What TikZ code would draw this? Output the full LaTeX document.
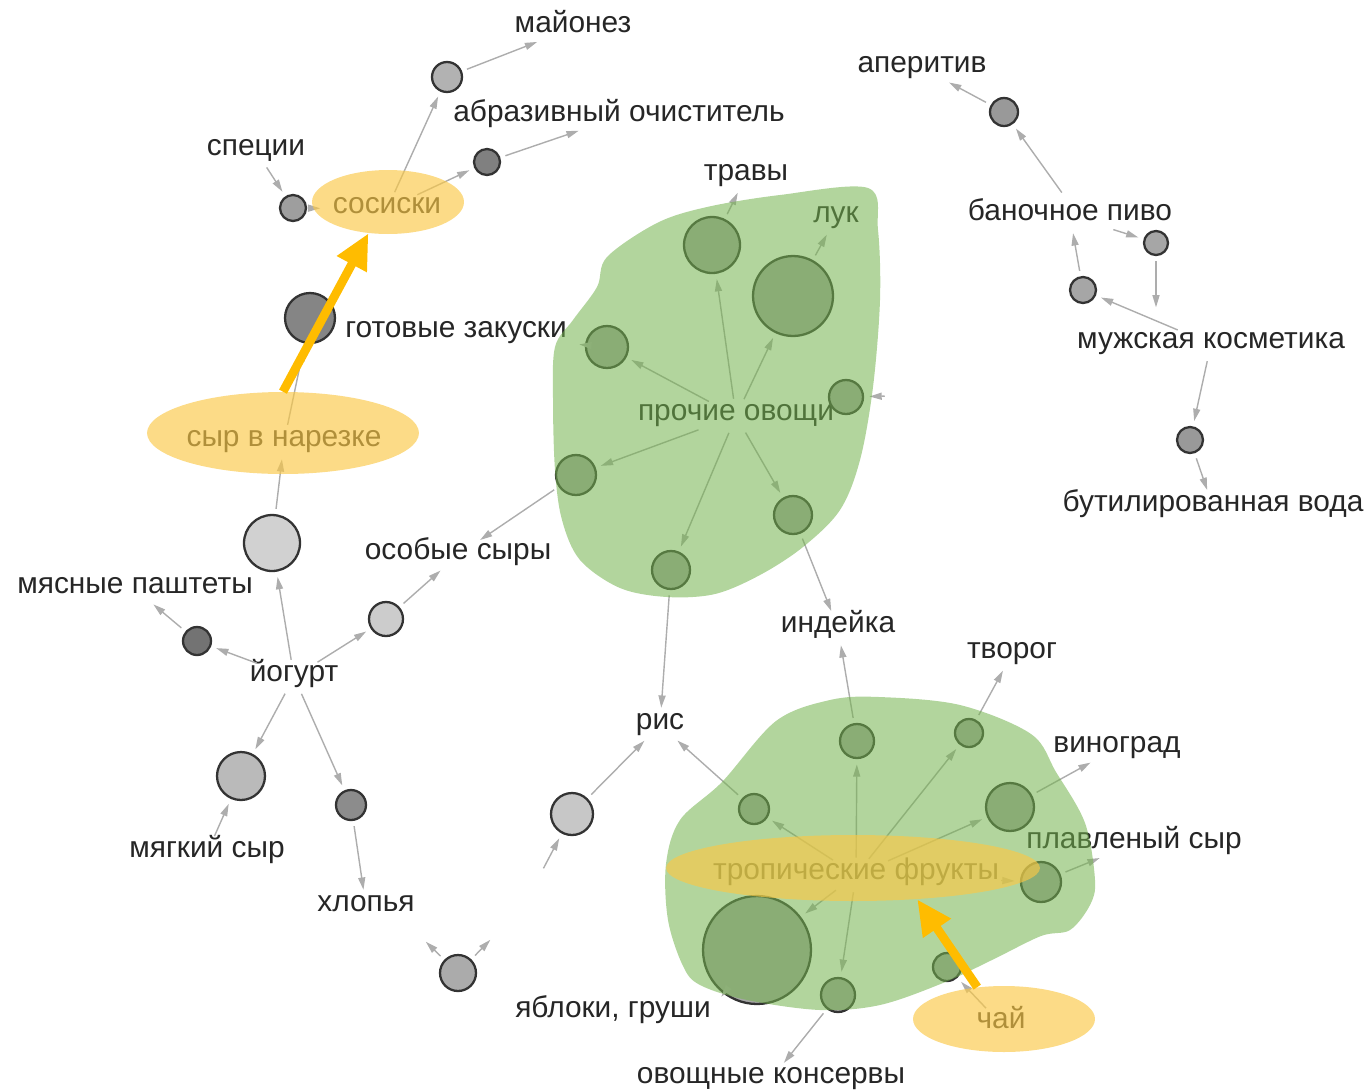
\documentclass[tikz,border=0pt]{standalone}
\usepackage{fontspec}
\setmainfont{Liberation Sans}
\usepackage{tikz}
\usetikzlibrary{shapes.geometric,arrows.meta}

\definecolor{leaf}{RGB}{115,179,77}
\definecolor{honey}{RGB}{250,200,70}
\definecolor{amber}{RGB}{255,188,0}

\begin{document}
\begin{tikzpicture}[x=0.02cm,y=-0.02cm,
  item/.style={font=\fontsize{17}{17}\selectfont,text=black!85,text height=1ex,text depth=0pt,inner sep=4pt,yshift=-0.12cm},
  rulecirc/.style={circle,draw=black!80,line width=1.3pt,minimum size=#1*0.04cm,inner sep=0pt},
  link/.style={color=black!32,line width=0.8pt,-{Triangle[length=7pt,width=4pt]},shorten <=3pt,shorten >=3pt},
  blob/.style={fill=leaf,fill opacity=.55},
  hl/.style={ellipse,fill=honey,fill opacity=.65,inner sep=0pt},
  hot/.style={draw=amber,line width=5pt,-{Triangle[length=20pt,width=18pt]}}]
\useasboundingbox (0,0) rectangle (1369,1089);

\node[item] (may) at (573,22) {майонез};
\node[item] (abr) at (619,111) {абразивный очиститель};
\node[item] (spec) at (256,145) {специи};
\node[item] (sos) at (387,203) {сосиски};
\node[item] (snack) at (456,327) {готовые закуски};
\node[item] (herb) at (746,170) {травы};
\node[item] (onion) at (836,212) {лук};
\node[item] (veg) at (736,410) {прочие овощи};
\node[item] (aper) at (922,62) {аперитив};
\node[item] (beer) at (1070,210) {баночное пиво};
\node[item] (cosm) at (1211,338) {мужская косметика};
\node[item] (water) at (1213,501) {бутилированная вода};
\node[item] (slice) at (284,436) {сыр в нарезке};
\node[item] (spchz) at (458,549) {особые сыры};
\node[item] (pate) at (135,583) {мясные паштеты};
\node[item] (yog) at (294,671) {йогурт};
\node[item] (soft) at (207,847) {мягкий сыр};
\node[item] (flake) at (366,901) {хлопья};
\node[item] (turkey) at (838,622) {индейка};
\node[item] (curd) at (1012,648) {творог};
\node[item] (rice) at (660,719) {рис};
\node[item] (grape) at (1117,742) {виноград};
\node[item] (proc) at (1134,838) {плавленый сыр};
\node[item] (trop) at (856,869) {тропические фрукты};
\node[item] (apple) at (613,1007) {яблоки, груши};
\node[item] (can) at (771,1073) {овощные консервы};
\node[item] (tea) at (1001,1018) {чай};

\node[rulecirc=15,fill=black!30] (rMay) at (447,77) {};
\node[rulecirc=13,fill=black!50] (rAbr) at (487,162) {};
\node[rulecirc=13,fill=black!38] (rSpec) at (293,208) {};
\node[rulecirc=25,fill=black!48] (rSnack) at (310,318) {};
\node[rulecirc=14,fill=black!40] (rAper) at (1004,112) {};
\node[rulecirc=12,fill=black!35] (rBeerA) at (1156,243) {};
\node[rulecirc=13,fill=black!35] (rBeerB) at (1083,290) {};
\node[rulecirc=13,fill=black!40] (rWater) at (1190,440) {};
\node[rulecirc=28,fill=black!18] (rSlice) at (272,543) {};
\node[rulecirc=14,fill=black!55] (rPate) at (197,641) {};
\node[rulecirc=17,fill=black!20] (rSpchz) at (386,619) {};
\node[rulecirc=24,fill=black!27] (rSoft) at (241,776) {};
\node[rulecirc=15,fill=black!45] (rFlake) at (351,805) {};
\node[rulecirc=21,fill=black!22] (rApple) at (572,814) {};
\node[rulecirc=18,fill=black!33] (rLow) at (458,973) {};

\node[rulecirc=28,fill=black!35] (gHerb) at (712,245) {};
\node[rulecirc=40,fill=black!35] (gOnion) at (793,296) {};
\node[rulecirc=21,fill=black!35] (gSnack) at (607,347) {};
\node[rulecirc=17,fill=black!35] (gRight) at (846,397) {};
\node[rulecirc=20,fill=black!35] (gSpchz) at (576,475) {};
\node[rulecirc=19,fill=black!35] (gTurkey) at (793,515) {};
\node[rulecirc=19,fill=black!35] (gRice) at (671,570) {};
\node[rulecirc=17,fill=black!35] (gTurkB) at (857,741) {};
\node[rulecirc=14,fill=black!35] (gCurd) at (969,733) {};
\node[rulecirc=15,fill=black!35] (gRiceB) at (754,809) {};
\node[rulecirc=24,fill=black!35] (gGrape) at (1010,807) {};
\node[rulecirc=20,fill=black!35] (gProc) at (1041,882) {};
\node[rulecirc=54,fill=black!35] (gApple) at (757,950) {};
\node[rulecirc=17,fill=black!35] (gCan) at (838,995) {};
\node[rulecirc=14,fill=black!35] (gTea) at (947,967) {};

\coordinate (cRight) at (890,396);
\coordinate (cLowA) at (422,938);
\coordinate (cLowB) at (494,936);
\coordinate (cApple) at (541,873);

\path[link] (sos) edge (rMay) (rMay) edge (may)
  (sos) edge (rAbr) (rAbr) edge (abr)
  (spec) edge (rSpec) (rSpec) edge (sos)
  (slice) edge (rSnack);
\path[link] (veg) edge (gHerb) (gHerb) edge (herb)
  (veg) edge (gOnion) (gOnion) edge (onion)
  (veg) edge (gSnack) (gSnack) edge (snack)
  (cRight) edge (gRight)
  (veg) edge (gSpchz) (gSpchz) edge (spchz)
  (veg) edge (gRice) (gRice) edge (rice)
  (veg) edge (gTurkey) (gTurkey) edge (turkey);
\path[link] (beer.north) edge[shorten <=8pt] (rAper) (rAper) edge (aper)
  (beer) edge (rBeerA) (rBeerA) edge[shorten >=14pt] (cosm.north -| rBeerA)
  (cosm) edge (rBeerB) (rBeerB) edge (beer)
  (cosm) edge (rWater) (rWater) edge (water);
\path[link] (yog) edge (rSlice) (rSlice) edge (slice)
  (yog) edge (rPate) (rPate) edge (pate)
  (yog) edge (rSpchz) (rSpchz) edge (spchz)
  (yog) edge (rSoft) (soft) edge (rSoft)
  (yog) edge (rFlake) (rFlake) edge (flake)
  (cApple) edge (rApple) (rApple) edge (rice)
  (rLow) edge (cLowA) (rLow) edge (cLowB);
\path[link] (trop) edge (gTurkB) (gTurkB) edge (turkey)
  (trop) edge (gCurd) (gCurd) edge (curd)
  (trop) edge (gRiceB) (gRiceB) edge (rice)
  (trop) edge (gGrape) (gGrape) edge (grape)
  (trop) edge (gProc) (gProc) edge (proc)
  (trop) edge (gApple) (gApple) edge (apple.north east)
  (trop) edge (gCan) (gCan) edge (can)
  (tea) edge (gTea);

\fill[blob] plot[smooth cycle,tension=.55] coordinates {(555,347) (573,320) (597,287) (607,257)
  (657,223) (707,207) (780,195) (868,188) (878,230) (880,300) (873,387) (860,460) (840,510)
  (803,547) (760,575) (715,594) (667,597) (620,588) (580,560) (562,520) (555,470) (553,400)};
\fill[blob] plot[smooth cycle,tension=.55] coordinates {(666,864) (680,820) (722,782) (776,721)
  (830,700) (879,697) (960,705) (1031,734) (1056,772) (1085,823) (1095,880) (1090,905)
  (1070,930) (1041,936) (992,960) (943,983) (880,1005) (820,1010) (747,1000) (700,985)
  (683,966) (668,920)};

\node[hl,minimum width=3.04cm,minimum height=1.28cm] (soshl) at (388,202) {};
\node[hl,minimum width=5.44cm,minimum height=1.64cm] (slicehl) at (283,433) {};
\node[hl,minimum width=7.48cm,minimum height=1.32cm] (trophl) at (853,868) {};
\node[hl,minimum width=3.64cm,minimum height=1.32cm] (teahl) at (1004,1019) {};

\draw[hot] (slicehl.north) -- (soshl.238);
\draw[hot] (teahl.130) -- (trophl.-26);
\end{tikzpicture}
\end{document}
